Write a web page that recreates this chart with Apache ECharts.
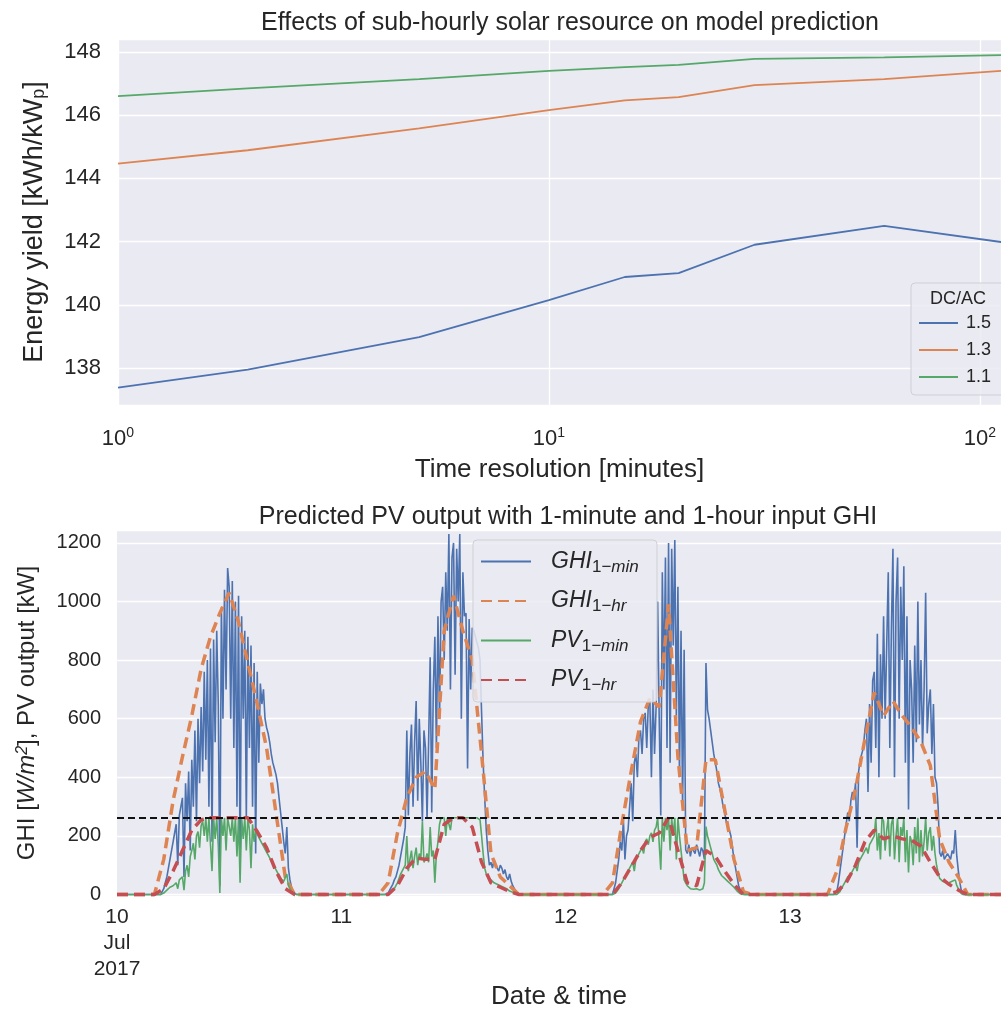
<!DOCTYPE html>
<html><head><meta charset="utf-8">
<script src="https://cdn.jsdelivr.net/npm/echarts@6/dist/echarts.min.js"></script>
<style>html,body{margin:0;padding:0;background:#fff}#c{width:1001px;height:1012px}</style>
</head><body><div id="c"></div>
<script>
// ---------- TOP PANEL DATA ----------
const resolutions = [1, 2, 5, 10, 15, 20, 30, 60, 120];
const yieldDcAc15 = [137.38, 137.95, 138.98, 140.15, 140.88, 141.00, 141.90, 142.50, 141.93];
const yieldDcAc13 = [144.47, 144.89, 145.58, 146.16, 146.47, 146.57, 146.95, 147.14, 147.43];
const yieldDcAc11 = [146.60, 146.85, 147.14, 147.40, 147.52, 147.59, 147.78, 147.83, 147.91];
const dcAcNames = ['1.5', '1.3', '1.1'];

// ---------- BOTTOM PANEL DATA ----------
const xTickLabels = ['10\nJul\n2017', '11', '12', '13'];
const pvCapacity = 262;
// hourly values, hours 0..23 of each day (10..13 Jul 2017)
const ghiHr10 = [0,0,0,0,0,120,320,470,610,770,880,960,1030,930,790,650,500,280,60,0,0,0,0,0];
const ghiHr11 = [0,0,0,0,0,40,210,330,400,420,360,900,1020,900,800,480,140,60,30,0,0,0,0,0];
const ghiHr12 = [0,0,0,0,0,40,240,420,590,670,640,990,470,150,160,460,460,290,120,10,0,0,0,0];
const ghiHr13 = [0,0,0,0,0,80,230,360,530,690,610,660,610,570,520,440,190,110,60,0,0,0,0,0];
const pvHr10 = [0,0,0,0,0,20,80,150,220,255,262,262,262,262,262,215,160,80,20,0,0,0,0,0];
const pvHr11 = [0,0,0,0,0,0,30,90,125,120,120,240,262,262,230,110,40,25,10,0,0,0,0,0];
const pvHr12 = [0,0,0,0,0,0,40,95,150,195,210,262,150,40,30,150,130,80,35,0,0,0,0,0];
const pvHr13 = [0,0,0,0,0,10,40,100,180,220,190,200,190,185,165,110,60,35,15,0,0,0,0,0];
// 10-minute samples of the 1-minute series, 04:00 .. 20:00 of each day
const ghiMin10 = [0,0,0,0,0,10, 20,40,60,90,120,150, 180,210,240,100,270,300, 330,60,380,250,420,150,
  460,300,560,250,600,380, 640,420,760,460,800,300, 840,180,870,520,900,650, 30,980,600,1040,700,1114,
  1050,600,1070,500,1000,300, 1020,70,950,600,900,260, 880,500,850,300,790,140, 760,450,720,650,700,600,
  570,550,520,480,450,430, 410,380,330,280,230,180, 140,230,90,50,25,10, 5,0,0,0,0,0, 0];
const ghiMin11 = [0,0,0,0,0,0, 5,15,25,35,50,60, 80,100,130,160,190,230, 560,270,480,580,300,520,
  660,320,600,450,250,560, 500,260,520,810,280,700, 880,500,950,600,1000,1050, 800,1100,900,1230,700,1150,
  1200,750,1180,1000,1230,600, 1100,950,960,430,940,700, 910,900,880,860,840,800, 620,450,330,220,150,100,
  110,90,120,100,95,80, 100,90,70,85,60,50, 70,45,30,20,10,5, 0,0,0,0,0,0, 0];
const ghiMin12 = [0,0,0,0,0,0, 0,20,40,80,120,180, 150,255,120,200,220,300, 380,250,450,480,400,540,
  560,480,600,620,500,650, 660,400,700,480,640,1000, 600,270,1100,700,1150,500, 1200,450,1180,850,1210,600,
  1050,400,900,300,835,153, 140,170,130,160,150,140, 170,150,130,160,150,120, 790,630,600,560,520,480,
  450,420,380,360,335,300, 280,250,230,220,200,160, 120,90,60,30,15,5, 0,0,0,0,0,0, 0];
const ghiMin13 = [0,0,0,0,0,0, 10,40,80,120,160,200, 240,280,250,320,350,330, 380,160,420,460,480,500,
  560,600,350,650,450,730, 760,500,890,400,820,600, 950,600,850,1100,500,900, 1180,400,1000,1150,600,1050,
  800,1120,450,950,290,800, 700,450,850,520,1000,580, 800,500,700,1030,550,650, 700,480,650,400,380,300,
  143,130,150,120,125,140, 130,120,150,140,220,130, 80,40,10,0,0,0, 0,0,0,0,0,0, 0];
const pvMin10 = [0,0,0,0,0,0, 5,10,15,20,25,30, 30,35,40,20,50,55, 60,15,80,100,60,130,
  150,175,120,200,215,160, 235,250,200,262,180,262, 262,80,262,190,262,170, 5,262,200,262,150,262,
  262,200,262,180,262,130, 262,40,262,190,262,150, 262,220,90,240,180,220, 205,195,185,175,165,155,
  145,135,125,115,105,95, 85,75,65,55,50,45, 40,70,30,20,10,5, 2,0,0,0,0,0, 0];
const pvMin11 = [0,0,0,0,0,0, 0,5,10,15,20,30, 40,55,70,80,90,100, 200,80,120,150,90,130,
  160,100,140,120,250,110, 120,140,110,230,130,150, 40,140,180,240,262,262, 262,200,262,262,220,262,
  262,262,262,262,262,262, 262,262,262,262,262,262, 262,262,262,262,262,255, 200,140,90,70,60,55,
  50,45,40,38,35,30, 30,28,25,22,20,15, 12,10,8,5,3,0, 0,0,0,0,0,0, 0];
const pvMin12 = [0,0,0,0,0,0, 0,0,5,10,20,30, 40,50,60,70,80,90, 100,110,80,120,130,140,
  150,160,140,180,190,170, 200,210,180,220,230,262, 262,85,262,180,262,220, 262,150,262,200,262,120,
  262,200,150,100,50,40, 30,25,20,20,18,17, 20,18,15,17,20,40, 232,200,180,160,140,120,
  110,100,85,75,65,60, 55,50,45,40,35,30, 25,20,12,6,3,0, 0,0,0,0,0,0, 0];
const pvMin13 = [0,0,0,0,0,0, 0,0,10,20,30,40, 50,60,55,70,80,90, 100,80,110,120,130,140,
  150,160,140,170,180,190, 200,262,150,210,120,262, 250,150,220,262,130,240, 262,120,200,262,110,230,
  200,262,110,220,75,200, 180,100,230,140,262,110, 220,130,180,262,150,210, 230,150,200,140,100,75,
  55,50,45,50,40,35, 40,35,45,40,50,30, 20,10,3,0,0,0, 0,0,0,0,0,0, 0];
// night values at the ends of the shown period (day offset, value)
const nightEdges = [[0, 0], [4, 0]];
const minuteWindowStartHour = 4, minuteStepMinutes = 10;

function hourlySeries(days) {
  const out = [];
  days.forEach((arr, d) => arr.forEach((v, h) => out.push([d + h / 24, v])));
  out.push(nightEdges[1]);
  return out;
}
function minuteSeries(days) {
  const out = [nightEdges[0]];
  days.forEach((arr, d) => arr.forEach((v, i) =>
    out.push([d + (minuteWindowStartHour + i * minuteStepMinutes / 60) / 24, v])));
  out.push(nightEdges[1]);
  return out;
}
const pair = (xs, ys) => xs.map((x, i) => [x, ys[i]]);

const FONT = 'Liberation Sans, Arial, sans-serif';
const TXT = '#262626';
const BG = '#EAEAF2';
const C = { blue: '#4C72B0', orange: '#DD8452', green: '#55A868', red: '#C44E52' };

const chart = echarts.init(document.getElementById('c'), null, { renderer: 'canvas' });
const legendRich = {
  it: { fontStyle: 'italic', fontSize: 23, color: TXT, fontFamily: FONT },
  sn: { fontSize: 17, color: TXT, fontFamily: FONT, verticalAlign: 'bottom', padding: [11, 0, 0, 0] },
  si: { fontSize: 17, fontStyle: 'italic', color: TXT, fontFamily: FONT, verticalAlign: 'bottom', padding: [11, 0, 0, 0] }
};
const legendText = {
  'GHI_1-min': '{it|GHI}{sn|1}{si|\u2212min}',
  'GHI_1-hr': '{it|GHI}{sn|1}{si|\u2212hr}',
  'PV_1-min': '{it|PV}{sn|1}{si|\u2212min}',
  'PV_1-hr': '{it|PV}{sn|1}{si|\u2212hr}'
};

chart.setOption({
  animation: false,
  textStyle: { fontFamily: FONT },
  title: [
    { text: 'Effects of sub-hourly solar resource on model prediction', left: 565, top: 6, textAlign: 'center',
      textStyle: { fontSize: 25, fontWeight: 'normal', color: TXT, fontFamily: FONT } },
    { text: 'Predicted PV output with 1-minute and 1-hour input GHI', left: 563, top: 500, textAlign: 'center',
      textStyle: { fontSize: 25, fontWeight: 'normal', color: TXT, fontFamily: FONT } }
  ],
  grid: [
    { left: 118, top: 39, right: 0, height: 366, show: true, backgroundColor: BG, borderWidth: 0 },
    { left: 117, top: 530, right: 0, height: 366, show: true, backgroundColor: BG, borderWidth: 0 }
  ],
  xAxis: [
    { type: 'log', gridIndex: 0, min: 1, max: 112, logBase: 10,
      name: 'Time resolution [minutes]', nameLocation: 'middle', nameGap: 52,
      nameTextStyle: { fontSize: 26, color: TXT, fontFamily: FONT },
      axisLine: { show: false }, axisTick: { show: false }, minorTick: { show: false },
      splitLine: { show: true, lineStyle: { color: '#fff', width: 1.3 } },
      axisLabel: { showMaxLabel: false, margin: 21, color: TXT,
        formatter: v => '{b|10}{s|' + Math.round(Math.log10(v)) + '}',
        rich: { b: { fontSize: 22, color: TXT, fontFamily: FONT, lineHeight: 26 },
                s: { fontSize: 14, color: TXT, fontFamily: FONT, verticalAlign: 'top', lineHeight: 14 } } } },
    { type: 'value', gridIndex: 1, min: 0, max: 3.94, interval: 1,
      name: 'Date & time', nameLocation: 'middle', nameGap: 88,
      nameTextStyle: { fontSize: 26, color: TXT, fontFamily: FONT },
      axisLine: { show: false }, axisTick: { show: false }, splitLine: { show: false },
      axisLabel: { showMaxLabel: false, margin: 8, fontSize: 21, lineHeight: 26, color: TXT,
        formatter: v => xTickLabels[Math.round(v)] || '' } }
  ],
  yAxis: [
    { type: 'value', gridIndex: 0, min: 136.83, max: 148.41, minInterval: 2, maxInterval: 2,
      name: 'Energy yield [kWh/kW{s|p}]', nameLocation: 'middle', nameGap: 70,
      nameTextStyle: { fontSize: 27, color: TXT, fontFamily: FONT,
        rich: { s: { fontSize: 18, color: TXT, fontFamily: FONT, verticalAlign: 'bottom' } } },
      axisLine: { show: false }, axisTick: { show: false },
      splitLine: { show: true, lineStyle: { color: '#fff', width: 1.3 } },
      axisLabel: { showMinLabel: false, showMaxLabel: false, margin: 17, fontSize: 22, color: TXT } },
    { type: 'value', gridIndex: 1, min: -5, max: 1244, minInterval: 200, maxInterval: 200,
      name: '{n|GHI [}{i|W/m}{p|2}{n|], PV output [kW]}', nameLocation: 'middle', nameGap: 78,
      nameTextStyle: { fontSize: 24, color: TXT, fontFamily: FONT,
        rich: { n: { fontSize: 24, color: TXT, fontFamily: FONT },
                i: { fontSize: 24, fontStyle: 'italic', color: TXT, fontFamily: FONT },
                p: { fontSize: 16, fontStyle: 'italic', color: TXT, fontFamily: FONT, verticalAlign: 'top' } } },
      axisLine: { show: false }, axisTick: { show: false },
      splitLine: { show: true, lineStyle: { color: '#fff', width: 1.3 } },
      axisLabel: { showMinLabel: false, showMaxLabel: false, margin: 16, fontSize: 20, color: TXT,
        formatter: v => String(v) } }
  ],
  legend: [
    { data: dcAcNames, orient: 'vertical', left: 918, top: 314, padding: 0, itemWidth: 39, itemHeight: 14, itemGap: 9,
      z: 100, itemStyle: { opacity: 0 },
      textStyle: { fontSize: 18, color: TXT, fontFamily: FONT, padding: [0, 0, 0, 3] } },
    { data: Object.keys(legendText), orient: 'vertical', left: 480, top: 550, padding: 0, itemWidth: 50, itemHeight: 24, itemGap: 14,
      z: 100, itemStyle: { opacity: 0 },
      formatter: n => legendText[n], textStyle: { fontSize: 23, color: TXT, fontFamily: FONT, padding: [0, 0, 0, 15], rich: legendRich } }
  ],
  graphic: [
    { type: 'rect', z: 90, shape: { x: 911, y: 283, width: 110, height: 112, r: 4 },
      style: { fill: 'rgba(234,234,242,0.85)', stroke: '#cfcfd6', lineWidth: 1 } },
    { type: 'text', z: 100, style: { text: 'DC/AC', x: 958, y: 299, align: 'center', verticalAlign: 'middle',
      fontSize: 18, fill: TXT, fontFamily: FONT } },
    { type: 'rect', z: 90, shape: { x: 473, y: 540, width: 184, height: 162, r: 4 },
      style: { fill: 'rgba(234,234,242,0.85)', stroke: '#cfcfd6', lineWidth: 1 } }
  ],
  series: [
    { name: dcAcNames[0], type: 'line', xAxisIndex: 0, yAxisIndex: 0, data: pair(resolutions, yieldDcAc15),
      symbol: 'none', lineStyle: { color: C.blue, width: 1.8 }, itemStyle: { color: C.blue } },
    { name: dcAcNames[1], type: 'line', xAxisIndex: 0, yAxisIndex: 0, data: pair(resolutions, yieldDcAc13),
      symbol: 'none', lineStyle: { color: C.orange, width: 1.8 }, itemStyle: { color: C.orange } },
    { name: dcAcNames[2], type: 'line', xAxisIndex: 0, yAxisIndex: 0, data: pair(resolutions, yieldDcAc11),
      symbol: 'none', lineStyle: { color: C.green, width: 1.8 }, itemStyle: { color: C.green } },
    { name: 'GHI_1-min', type: 'line', xAxisIndex: 1, yAxisIndex: 1, data: minuteSeries([ghiMin10, ghiMin11, ghiMin12, ghiMin13]),
      symbol: 'none', lineStyle: { color: C.blue, width: 1.6 }, itemStyle: { color: C.blue } },
    { name: 'GHI_1-hr', type: 'line', xAxisIndex: 1, yAxisIndex: 1, data: hourlySeries([ghiHr10, ghiHr11, ghiHr12, ghiHr13]),
      symbol: 'none', lineStyle: { color: C.orange, width: 3.5, type: [11, 6] }, itemStyle: { color: C.orange } },
    { name: 'PV_1-min', type: 'line', xAxisIndex: 1, yAxisIndex: 1, data: minuteSeries([pvMin10, pvMin11, pvMin12, pvMin13]),
      symbol: 'none', lineStyle: { color: C.green, width: 1.6 }, itemStyle: { color: C.green } },
    { name: 'PV_1-hr', type: 'line', xAxisIndex: 1, yAxisIndex: 1, data: hourlySeries([pvHr10, pvHr11, pvHr12, pvHr13]),
      symbol: 'none', lineStyle: { color: C.red, width: 3.5, type: [11, 6] }, itemStyle: { color: C.red },
      markLine: { silent: true, symbol: 'none', label: { show: false },
        lineStyle: { color: '#111', width: 1.8, type: [7, 4] }, data: [{ yAxis: pvCapacity }] } }
  ]
});
</script></body></html>
